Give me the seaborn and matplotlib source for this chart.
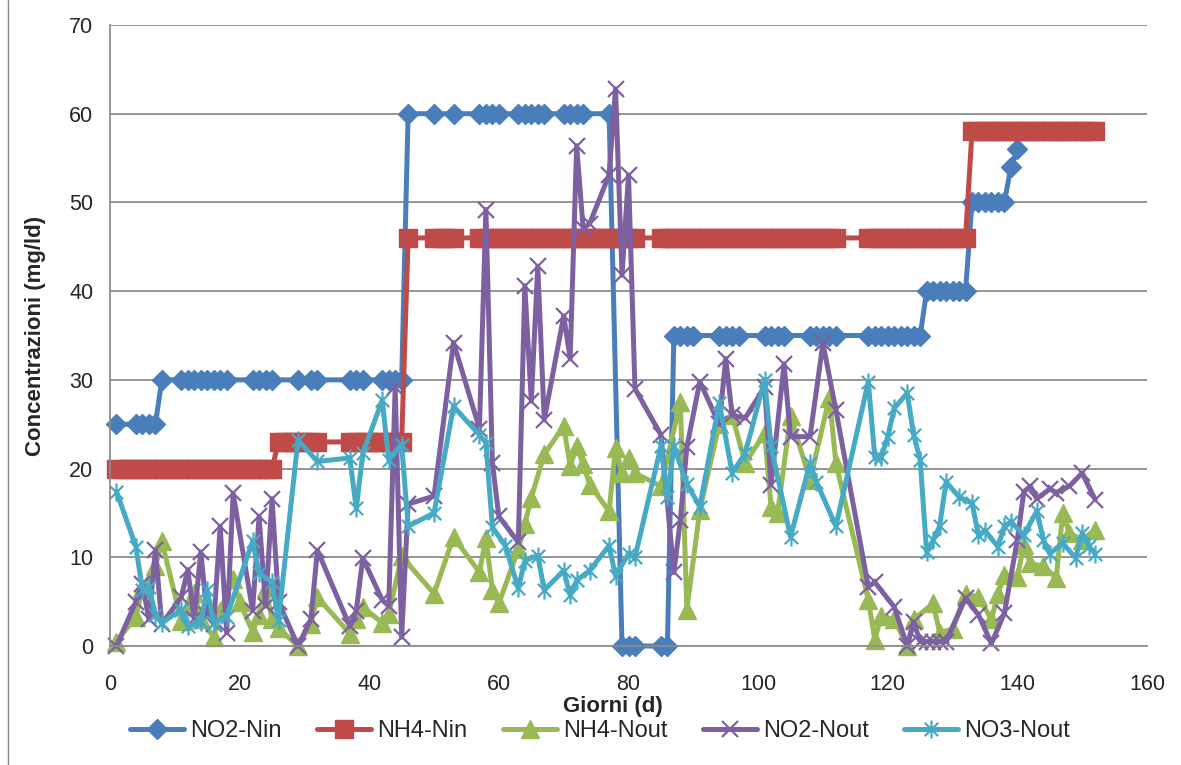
import matplotlib
matplotlib.use('Agg')
import matplotlib.pyplot as plt
from matplotlib.path import Path
from matplotlib.lines import Line2D
import seaborn as sns

# NO2-Nin: tratti a livello costante (giorno iniziale, giorno finale, valore)
no2_nin_da = [1, 4, 8, 11, 22, 29, 31, 37, 42, 46, 50, 53, 57, 63, 70, 77, 79, 85, 87, 94, 101, 108, 117, 126, 133, 139, 140]
no2_nin_a = [1, 7, 8, 18, 25, 29, 32, 39, 45, 46, 50, 53, 60, 67, 73, 77, 81, 86, 90, 97, 104, 112, 125, 132, 138, 139, 140]
no2_nin_val = [25, 25, 30, 30, 30, 30, 30, 30, 30, 60, 60, 60, 60, 60, 60, 60, 0, 0, 35, 35, 35, 35, 35, 40, 50, 54, 56]

# NH4-Nin: tratti a livello costante
nh4_nin_da = [1, 26, 37, 46, 50, 57, 85, 117, 133]
nh4_nin_a = [25, 32, 45, 46, 53, 81, 112, 132, 152]
nh4_nin_val = [20, 23, 23, 46, 46, 46, 46, 46, 58]

# NH4-Nout
nh4_out_d = [1, 4, 5, 7, 8, 11, 12, 13, 14, 16, 17, 19, 20, 22, 23, 24, 25, 26, 29, 31, 32, 37, 38, 39, 42, 43,
             45, 50, 53, 57, 58, 59, 60, 63, 64, 65, 67, 70, 71, 72, 73, 74, 77, 78, 79, 80, 81, 85, 88, 89, 91,
             94, 96, 98, 101, 102, 103, 105, 108, 111, 112, 117, 118, 119, 121, 123, 124, 127, 128, 130, 132,
             134, 136, 137, 138, 140, 141, 142, 144, 146, 147, 148, 150, 152]
nh4_out_v = [0.5, 3.3, 6.5, 9, 11.8, 2.8, 4.5, 6, 3, 1, 4, 7.5, 5, 1.6, 3.5, 6.5, 3, 2, 0, 2.5, 5.5, 1.4, 3, 4.4, 2.6, 3.6,
             10.1, 5.9, 12.3, 8.3, 12.2, 6.3, 4.8, 10.9, 13.7, 16.7, 21.6, 24.8, 20.3, 22.5, 20.5, 18.2, 15.2, 22.3, 19.5, 21.2, 19.5, 18, 27.5, 4.1, 15.3,
             25, 26, 20.6, 24, 15.7, 15, 25.9, 18.7, 28, 20.6, 5.2, 0.7, 3.4, 3.0, 0, 3, 4.8, 1.5, 1.9, 5.9,
             5.5, 3, 5.9, 8, 7.8, 11.4, 9.3, 9, 7.7, 15, 12.7, 12, 13.1]

# NO2-Nout
no2_out_d = [1, 4, 5, 6, 7, 8, 11, 12, 13, 14, 15, 16, 17, 18, 19, 22, 23, 24, 25, 26, 29, 31, 32, 37, 38, 39, 42, 43,
             44, 45, 46, 50, 53, 57, 58, 59, 60, 63, 64, 65, 66, 67, 70, 71, 72, 73, 74, 77, 78, 79, 80, 81, 85, 87,
             88, 89, 91, 94, 95, 96, 98, 101, 102, 104, 105, 108, 110, 112, 117, 118, 121, 123, 124, 125, 126, 127,
             128, 129, 132, 134, 136, 138, 140, 141, 142, 143, 145, 146, 148, 150, 152]
no2_out_v = [0, 5, 7, 3, 10.8, 2.5, 5.5, 8.6, 3, 10.6, 3.5, 2.5, 13.5, 1.5, 17.2, 4, 14.6, 4.5, 16.6, 5, 0, 3, 10.8, 2.2, 4, 9.9, 5.2, 4.5,
             29.2, 1, 16, 16.9, 34.2, 24.5, 49.2, 20.6, 14.6, 11.7, 40.6, 27.6, 42.8, 25.5, 37.2, 32.4, 56.4, 47.1, 47.6, 53.1, 62.8, 41.8, 53.1, 29.0, 23.8, 8.3,
             14.2, 22.4, 29.8, 25, 32.4, 26, 25.7, 29.2, 18.2, 31.8, 23.6, 23.6, 34.1, 26.6, 6.7, 7.2, 4.4, 0, 2.7, 0.5, 0.5, 0.5,
             0.5, 0.5, 5.4, 3.5, 0.3, 3.7, 12, 17.4, 18, 16.6, 17.7, 17.3, 18, 19.5, 16.5]

# NO3-Nout
no3_out_d = [1, 4, 5, 6, 7, 8, 11, 12, 14, 15, 16, 18, 22, 23, 25, 26, 29, 32, 37, 38, 39, 42, 43, 45, 46, 50, 53,
             57, 58, 59, 61, 63, 64, 66, 67, 70, 71, 72, 74, 77, 78, 80, 81, 85, 86, 87, 89, 91, 94, 96, 98, 101,
             102, 105, 108, 109, 112, 117, 118, 119, 120, 121, 123, 124, 125, 126, 127, 128, 129, 131, 133, 134,
             135, 137, 138, 139, 141, 143, 144, 145, 147, 149, 150, 151, 152]
no3_out_v = [17.4, 11.2, 6.3, 6.7, 3.5, 2.6, 4.1, 2.2, 2.7, 6.3, 2.6, 3.3, 11.8, 8.2, 7.2, 2.9, 23.2, 20.8, 21.2, 15.5, 21.7, 27.7, 21.0, 22.7, 13.5, 15.0, 27.0,
             23.8, 22.9, 13.4, 11.3, 6.5, 9.6, 10.2, 6.3, 8.5, 5.7, 7.4, 8.5, 11.3, 7.9, 10.4, 10.0, 22.5, 16.8, 22.5, 18.3, 15.7, 27.4, 19.5, 21.7, 30,
             22.5, 12.3, 20.6, 18.5, 13.5, 29.8, 21.3, 21.3, 23.6, 26.8, 28.5, 23.8, 21.0, 10.6, 11.9, 13.5, 18.5, 16.8, 16.1, 12.5,
             13, 11.2, 13.5, 14, 12.5, 15.2, 12, 10.4, 11.6, 9.9, 12.7, 11.3, 10.4]


def tratti(da, a, val):
    giorni, conc = [], []
    for d0, d1, v in zip(da, a, val):
        for g in range(d0, d1 + 1):
            giorni.append(g)
            conc.append(v)
    return giorni, conc


no2_nin_d, no2_nin_v = tratti(no2_nin_da, no2_nin_a, no2_nin_val)
nh4_nin_d, nh4_nin_v = tratti(nh4_nin_da, nh4_nin_a, nh4_nin_val)

sns.set_style('white')
plt.rcParams['font.family'] = ['Liberation Sans', 'DejaVu Sans']

fig = plt.figure(figsize=(11.81, 7.65), dpi=100)
ax = fig.add_axes([110 / 1181, 1 - 646 / 765, 1037 / 1181, 621 / 765])

# asterisco stile Excel (X + barra verticale)
asterisco = Path([(-1, -1), (1, 1), (-1, 1), (1, -1), (0, -1.35), (0, 1.35)],
                 [Path.MOVETO, Path.LINETO, Path.MOVETO, Path.LINETO, Path.MOVETO, Path.LINETO])

serie = [
    ('NO2-Nin', no2_nin_d, no2_nin_v, '#4A7EBB', dict(marker='D', markersize=10, markeredgewidth=1)),
    ('NH4-Nin', nh4_nin_d, nh4_nin_v, '#BE4B48', dict(marker='s', markersize=13, markeredgewidth=1)),
    ('NH4-Nout', nh4_out_d, nh4_out_v, '#98B954', dict(marker='^', markersize=12.5, markeredgewidth=1)),
    ('NO2-Nout', no2_out_d, no2_out_v, '#7D60A0', dict(marker='x', markersize=11, markeredgewidth=1.6)),
    ('NO3-Nout', no3_out_d, no3_out_v, '#46AAC5', dict(marker=asterisco, markersize=13, markeredgewidth=1.6,
                                                        markerfacecolor='none')),
]

for nome, x, y, col, mk in serie:
    sns.lineplot(x=x, y=y, ax=ax, color=col, linewidth=3.6, markeredgecolor=col,
                 label=nome, estimator=None, sort=False, clip_on=False, legend=False, **mk)

ax.set_xlim(0, 160)
ax.set_ylim(0, 70)
ax.set_xticks(range(0, 161, 20))
ax.set_yticks(range(0, 71, 10))
ax.yaxis.grid(True, color='#8C8C8C', linewidth=1.3)
ax.xaxis.grid(False)
ax.set_axisbelow(True)
for s in ['top', 'right']:
    ax.spines[s].set_visible(False)
for s in ['left', 'bottom']:
    ax.spines[s].set_color('#8C8C8C')
    ax.spines[s].set_linewidth(1.3)
ax.tick_params(axis='x', direction='out', length=6, color='#8C8C8C', labelsize=15.5, pad=14)
ax.tick_params(axis='y', direction='out', length=6, color='#8C8C8C', labelsize=15.5, pad=6)

ax.set_xlabel('Giorni (d)', fontsize=16, fontweight='bold')
ax.xaxis.set_label_coords(0.485, -0.08)
ax.set_ylabel('Concentrazioni (mg/ld)', fontsize=16, fontweight='bold')
ax.yaxis.set_label_coords(-0.062, 0.5)

handles, labels = ax.get_legend_handles_labels()
fig.legend(handles, labels, loc='center', bbox_to_anchor=(0.508, 0.044), ncol=5, frameon=False,
           fontsize=17, handlelength=2.3, handletextpad=0.25, columnspacing=1.5, numpoints=1)

fig.add_artist(Line2D([8 / 1181, 8 / 1181], [0, 1], transform=fig.transFigure, color='#8C8C8C', linewidth=1))

fig.savefig('out.png', dpi=100)
